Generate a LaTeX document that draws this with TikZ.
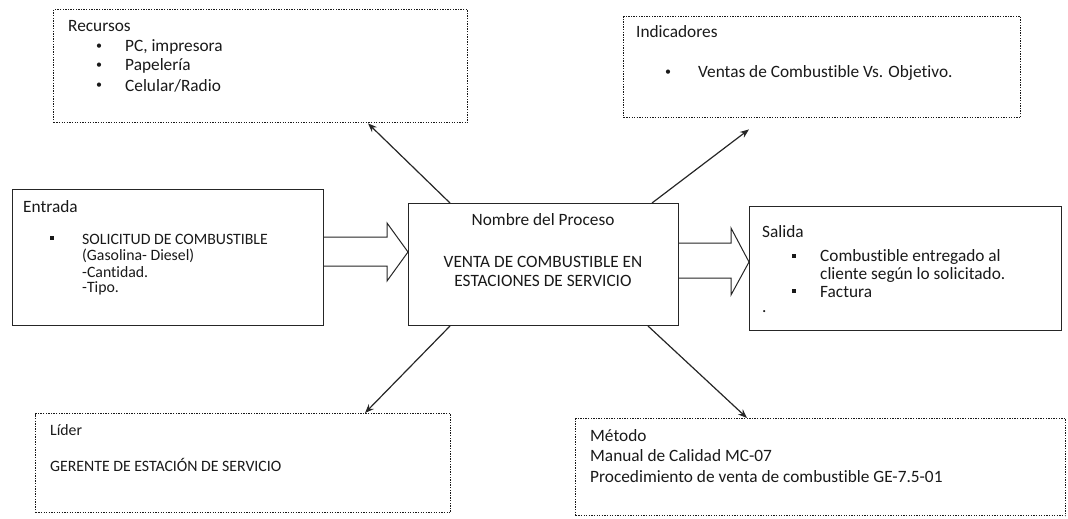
\documentclass[tikz,border=0pt]{standalone}
\usepackage{fontspec}
\setmainfont{Carlito}[Ligatures=NoCommon]
\usetikzlibrary{arrows.meta,calc}
\tikzset{
  dotbox/.style={draw=black!90, line width=1.4pt, dash pattern=on 1.3pt off 1.3pt, rectangle, inner sep=0pt, anchor=north west},
  solidbox/.style={draw=black!85, line width=1pt, rectangle, inner sep=0pt, anchor=north west},
  txt/.style={anchor=west, inner sep=0pt, font=\fontsize{17.3}{19}\selectfont, text=black!90},
  bul/.style={anchor=west, inner sep=0pt, font=\fontsize{12}{14}\selectfont, text=black!90},
  smalltxt/.style={txt, font=\fontsize{15.8}{17}\selectfont},
  ctxt/.style={anchor=center, inner sep=0pt, font=\fontsize{17.3}{19}\selectfont, text=black!90},
  conn/.style={draw=black!85, line width=1.2pt, -{Stealth[length=9pt,width=7pt]}},
  blockarrow/.style={draw=black!85, line width=1pt, fill=white, line join=miter},
}
\newcommand{\sqb}{\rule[0.15em]{3.6pt}{3.6pt}}
\begin{document}
\begin{tikzpicture}[x=1pt,y=-1pt]
\useasboundingbox (0,0) rectangle (1068,519);
% boxes
\node[dotbox, minimum width=414pt, minimum height=113pt] (rec) at (53,9) {};
\node[dotbox, minimum width=397pt, minimum height=101pt] (ind) at (623,16) {};
\node[solidbox, minimum width=311pt, minimum height=136pt] (ent) at (12,189) {};
\node[solidbox, minimum width=270pt, minimum height=122pt] (proc) at (408,203) {};
\node[solidbox, minimum width=312pt, minimum height=124pt] (sal) at (749,206) {};
\node[dotbox, minimum width=415pt, minimum height=99pt] (lid) at (35,413) {};
\node[dotbox, minimum width=490pt, minimum height=97pt] (met) at (575,418) {};
% Recursos text
\node[txt] (rect) at (68,26) {Recursos};
\node[bul] (recb1) at (96,47) {•};
\node[txt] (rec1) at (125,47) {PC, impresora};
\node[bul] (recb2) at (96,66) {•};
\node[txt] (rec2) at (125,66) {Papelería};
\node[bul] (recb3) at (96,86) {•};
\node[txt] (rec3) at (125,86) {Celular/Radio};
% Indicadores text
\node[txt] (indt) at (636,32) {Indicadores};
\node[bul] (indb1) at (665,73) {•};
\node[txt] (ind1) at (698,73) {Ventas de Combustible Vs. Objetivo.};
% Entrada text
\node[txt] (entt) at (23,207) {Entrada};
\node[smalltxt] (entb1) at (50,239) {\sqb};
\node[smalltxt] (ent1) at (82,239) {SOLICITUD DE COMBUSTIBLE};
\node[smalltxt] (ent2) at (82,256) {(Gasolina- Diesel)};
\node[smalltxt] (ent3) at (82,272) {-Cantidad.};
\node[smalltxt] (ent4) at (82,288) {-Tipo.};
% Proceso text
\node[ctxt] (proct) at (543,220) {Nombre del Proceso};
\node[ctxt] (proc1) at (543,262) {VENTA DE COMBUSTIBLE EN};
\node[ctxt] (proc2) at (543,281) {ESTACIONES DE SERVICIO};
% Salida text
\node[txt] (salt) at (762,232) {Salida};
\node[txt] (salb1) at (792,257) {\sqb};
\node[txt] (sal1) at (820,257) {Combustible entregado al};
\node[txt] (sal2) at (820,275) {cliente según lo solicitado.};
\node[txt] (salb2) at (792,292) {\sqb};
\node[txt] (sal3) at (820,292) {Factura};
\node[txt] (sal4) at (762,312) {.};
% Lider text
\node[smalltxt] (lidt) at (50,430) {Líder};
\node[smalltxt] (lid1) at (50,465) {GERENTE DE ESTACIÓN DE SERVICIO};
% Metodo text
\node[txt] (mett) at (590,436) {Método};
\node[txt] (met1) at (590,456) {Manual de Calidad MC-07};
\node[txt] (met2) at (590,477) {Procedimiento de venta de combustible GE-7.5-01};
% block arrows
\draw[blockarrow] (ent.east |- 0,237) -- (387,237) -- (387,223) -- (proc.west |- 0,252) -- (387,281) -- (387,266) -- (ent.east |- 0,266);
\draw[blockarrow] (proc.east |- 0,243) -- (731,243) -- (731,228) -- (sal.west |- 0,262) -- (731,295) -- (731,278) -- (proc.east |- 0,278);
% connectors
\draw[conn] ([xshift=42pt]proc.north west) -- ([xshift=315pt]rec.south west);
\coordinate (indend) at ([xshift=126pt,yshift=-11pt]ind.south west);
\draw[conn] ([xshift=244pt]proc.north west) -- (indend);
\draw[conn] ([xshift=42pt]proc.south west) -- ([xshift=330pt]lid.north west);
\draw[conn] ([xshift=240pt]proc.south west) -- ([xshift=172pt]met.north west);
\end{tikzpicture}
\end{document}
